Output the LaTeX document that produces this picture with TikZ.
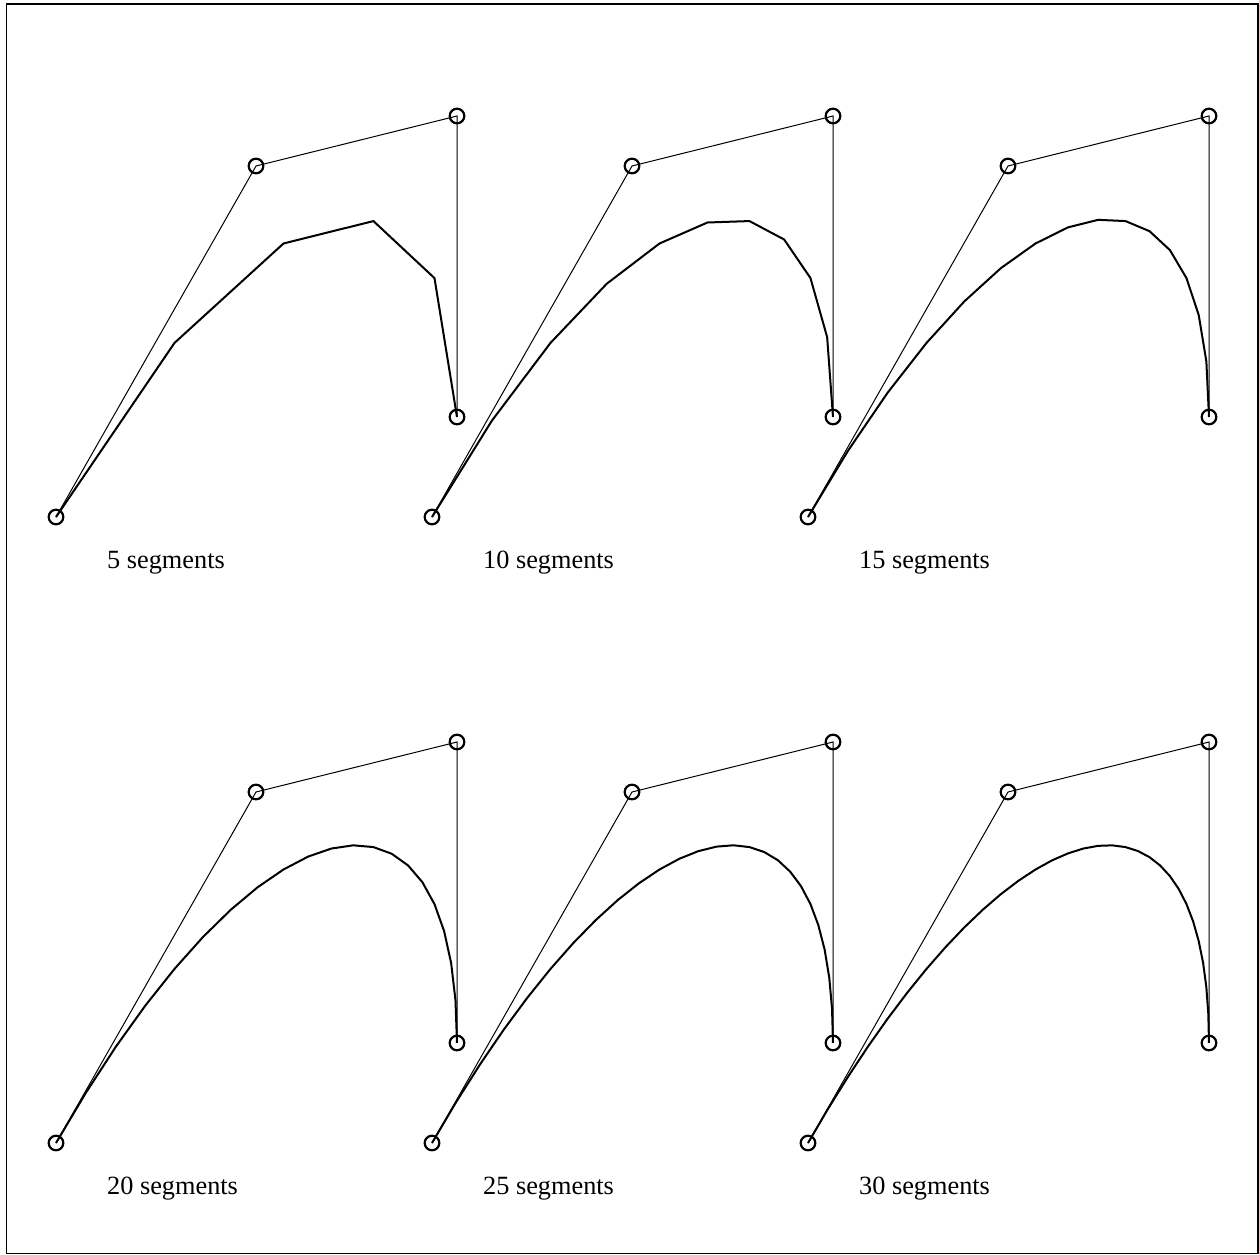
\documentclass[tikz,border=0pt]{standalone}
\usepackage{fontspec}
\setmainfont{Liberation Serif}
\usetikzlibrary{positioning}

\tikzset{
	ctrlpt/.style={draw=black,line width=2.2pt},
	hull/.style={line width=1pt},
	approx/.style={line width=2pt,line join=miter},
	seglabel/.style={anchor=base west,inner sep=0pt,font=\fontsize{26.3}{30}\selectfont},
}

\begin{document}
\begin{tikzpicture}[x=1pt,y=-1pt,
	declare function={
		bz(\t,\a,\b,\c,\d)=(1-\t)*(1-\t)*(1-\t)*\a+3*(1-\t)*(1-\t)*\t*\b+3*(1-\t)*\t*\t*\c+\t*\t*\t*\d;
	}]
	\useasboundingbox (0,0) rectangle (1259,1254);
	% frame
	\draw[line width=1.5pt] (6.5,4) rectangle (1258,1253.5);
	
	% one panel per number of segments
	\foreach \n/\dx/\dy [count=\i] in {5/0/0,10/376/0,15/752/0,20/0/626,25/376/626,30/752/626}{
		\pgfmathtruncatemacro\ns{\n+1}
		\begin{scope}[shift={(\dx,\dy)}]
			\coordinate (p0) at (56,517);
			\coordinate (p1) at (256,166);
			\coordinate (p2) at (457,116);
			\coordinate (p3) at (457,417);
			
			% control polygon
			\draw[hull] (p0)--(p1)--(p2)--(p3);
			
			% polyline approximation of the curve
			\draw[approx] plot[domain=0:1,samples=\ns]
				({bz(\x,56,256,457,457)},{bz(\x,517,166,116,417)});
			
			% control points
			\foreach \p in {p0,p1,p2,p3}
				\draw[ctrlpt] (\p) circle (7.3);
			
			\node[seglabel] (lbl\i) at (107,568) {\n\ segments};
		\end{scope}
	}
\end{tikzpicture}
\end{document}
